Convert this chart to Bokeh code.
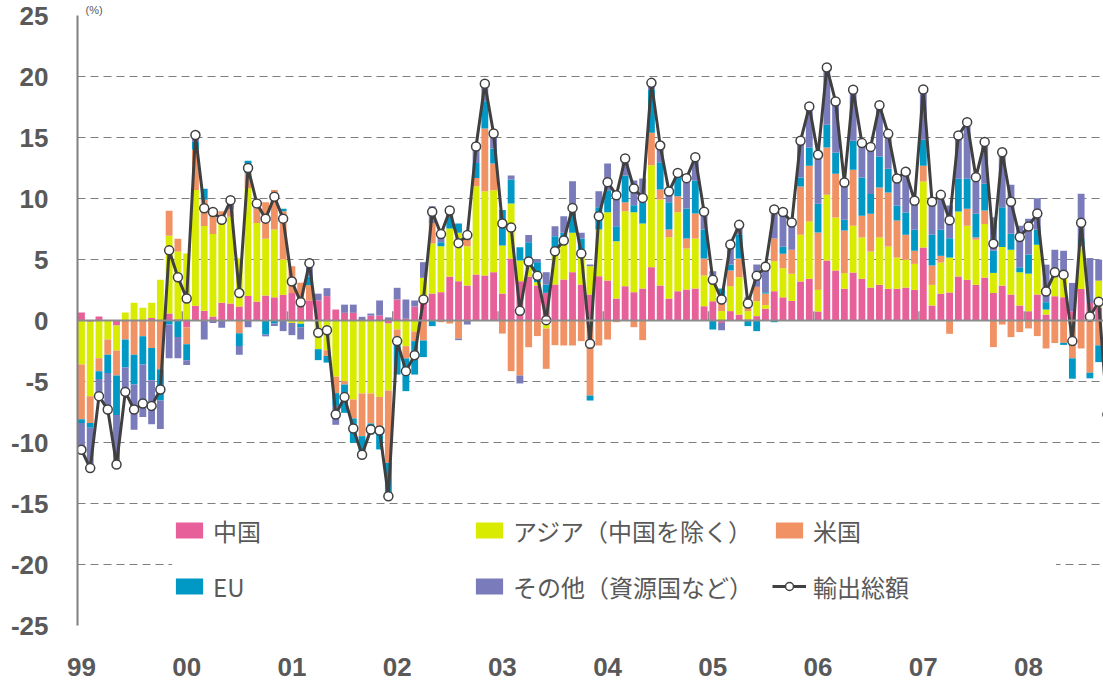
from bokeh.plotting import figure
from bokeh.models import ColumnDataSource, FixedTicker, Legend, LegendItem, Range1d, Span
from bokeh.embed import file_html
from bokeh.resources import INLINE

year_labels = ["99", "00", "01", "02", "03", "04", "05", "06", "07", "08", "09"]
y_tick_values = [-25, -20, -15, -10, -5, 0, 5, 10, 15, 20, 25]
y_tick_labels = ["-25", "-20", "-15", "-10", "-5", "0", "5", "10", "15", "20", "25"]

china = [
    0.65, -0.1, 0.33, 0, -0.4, 0, 0, 0, 0.2, 0,
    0.57, 0.1, -0.55, 1.2, 0.8, 0.33, 1.45, 1.4, 1.15, 2.0,
    1.55, 2.05, 1.9, 2.1, 2.25, 1.5, 1.65, 1.65, 2.0, 0.9,
    0.63, 0.63, 0, 0.4, 0.4, -0.25, 1.72, 0.14, 1.15, 1.72,
    2.21, 2.32, 3.6, 3.22, 2.87, 3.77, 3.69, 3.96, 2.21, 5.08,
    3.22, 3.6, 2.87, 2.27, 2.95, 3.36, 3.96, 2.95, 2.13, 3.63,
    3.28, 1.8, 2.81, 2.32, 2.62, 4.37, 2.87, 1.8, 2.4, 2.54,
    2.62, 1.17, 1.58, -0.2, 0.77, 0.49, 0.1, 0.36, 0.96, 2.4,
    1.9, 1.61, 3.2, 3.42, 0.74, 4.92, 4.1, 2.6, 3.93, 3.42,
    2.7, 2.92, 2.6, 2.6, 2.7, 2.51, 5.98, 1.23, 2.19, 2.3,
    3.61, 3.33, 2.92, 3.52, 2.26, 2.86, 2.13, 1.23, 0.76, 2.13,
    0.49, 1.99, 1.91, 0.76, 2.59, 1.44, 1.04, -0.5,
]

asia = [
    -3.6, -6.1, -3.1, -1.55, -2.05, 0.65, 1.45, 1.05, 1.25, 3.35,
    6.38, 5.55, 5.5, 9.5, 6.95, 6.77, 6.8, 7.1, 3.95, 8.85,
    6.45, 4.65, 5.55, 2.9, -0.2, -0.27, 0, -2.35, -2.45, -4.6,
    -4.97, -6.47, -5.98, -5.98, -6.26, -5.49, -0.74, -2.1, -0.9, 1.78,
    4.1, 3.77, 3.94, 3.97, 3.22, 7.24, 6.91, 6.72, 3.94, 4.51,
    1.7, 0.85, 0.27, -0.66, 3.01, 3.28, 3.23, 2.87, 2.32, 3.83,
    5.6, 4.7, 6.15, 6.56, 5.33, 8.36, 7.05, 5.03, 6.48, 3.36,
    4.1, 2.52, 2.05, 0.77, 2.04, 3.06, 0.67, 1.22, 0.3, 2.46,
    2.38, 2.22, 3.82, 4.69, 1.77, 5.38, 4.34, 1.28, 3.83, 3.38,
    2.96, 3.88, 3.47, 2.56, 2.27, 2.13, 5.41, 1.69, 2.56, 2.86,
    5.32, 4.43, 3.69, 4.4, 1.64, 3.16, 3.67, 2.72, 3.08, 4.08,
    0.41, 1.55, 1.71, 0, 3.49, 0, 2.23, -2.5,
]

usa = [
    -4.5, -2.2, -1.05, -1.25, -2.05, -1.55, -2.8, -1.3, -2.25, -4.0,
    2.05, 1.05, -1.4, 3.3, 2.15, 1.85, 0.7, 0.6, -1.05, 1.2,
    1.2, 3.0, 3.25, 3.95, 2.2, 1.6, 1.25, 0, -0.45, -1.35,
    -0.28, -1.56, -3.5, -2.46, -2.48, -5.93, -0.68, -1.01, -0.79, -1.64,
    1.69, -0.14, -0.25, -1.48, 0.55, 0.68, 5.14, 2.19, -1.07, -4.15,
    -4.51, -2.19, -1.28, -3.3, -2.02, -2.05, -2.05, -1.69, -6.15, -2.05,
    -1.56, -0.14, 0.74, -0.55, -1.61, 2.65, 0.82, 0.63, 1.31, 0.82,
    2.05, 1.39, 0, 0.8, 1.29, 1.53, 0.35, 1.18, 0.95, 1.86,
    1.2, 1.96, 3.96, 4.57, 4.7, 3.88, 3.58, 3.5, 4.59, 1.78,
    3.08, 4.1, 4.42, 3.04, 2.05, 1.07, 1.29, 1.59, 0.55, -1.09,
    0, 1.39, 0.19, 1.1, -2.18, -0.33, -1.36, -0.95, -0.65, -1.28,
    -2.29, -1.85, -1.83, -3.1, -2.29, -4.28, -2.04, -2.0,
]

eu = [
    -0.3, -0.4, -0.65, -1.5, -3.25, -2.3, -2.45, -2.3, -2.65, -2.55,
    -0.33, -1.35, -1.3, 0.65, 0.9, 0, 0, 0, -1.05, 1.05,
    0.2, -1.15, -0.25, 0.2, 0, -0.28, 0.7, -0.9, -0.55, -1.05,
    -2.32, -2.0, -1.6, -0.9, -1.83, -2.73, -3.01, -2.68, -2.74, -1.36,
    -0.46, 0.33, 1.09, 0.76, 0.7, 1.23, 2.24, 1.23, 2.9, 1.97,
    1.09, 1.97, 1.64, 0.68, 0.95, 0.55, 1.77, 0.9, -0.41, 1.83,
    1.8, 1.23, 2.19, 0.57, 1.69, 3.55, 2.24, 2.24, 1.64, 2.46,
    2.71, 2.38, -0.74, 1.05, 0.49, 1.97, -0.46, -0.87, 0.11, -0.14,
    0.57, 0, 0.74, 1.5, 2.35, 1.86, 1.75, 0.87, 2.38, 3.14,
    1.62, 2.54, 1.94, 1.23, 1.83, 1.72, 2.13, 2.51, 2.13, 1.59,
    2.68, 2.46, 1.94, 2.18, 1.82, 3.27, 1.31, 0.41, 1.56, 1.23,
    0.6, 0, -0.17, -1.67, 0.6, -0.46, -1.37, -2.0,
]

other = [
    -2.5, -3.2, -1.4, -3.0, -4.0, -2.1, -3.7, -4.3, -3.6, -2.35,
    -2.77, -1.75, -0.4, 0.5, -1.55, -0.2, -0.6, 0.65, -0.7, -0.55,
    0.35, -0.15, -0.2, -0.87, -1.0, -1.0, 1.0, 0.55, 0.65, -1.55,
    0.67, 0.67, 0.3, 0.17, 1.24, 0.25, 0.96, 1.58, 0.49, 1.28,
    1.37, 0.8, 0.47, -0.13, -0.33, 1.1, 1.36, 1.09, 0, 0.33,
    -0.65, 0.58, 0.22, 1.01, 0.82, 1.36, 2.46, 0.47, 0.14, 1.31,
    2.19, 2.46, 1.17, 2.03, 2.0, 0.55, 1.36, 0.9, 0.37, 2.38,
    1.91, 1.45, 0.41, -0.6, 1.78, 0.74, 0.79, 1.83, 1.86, 2.38,
    2.7, 2.19, 3.01, 3.36, 4.02, 4.7, 4.18, 3.06, 4.18, 2.82,
    3.87, 4.21, 2.87, 2.21, 3.34, 2.38, 4.12, 2.71, 2.87, 2.68,
    3.55, 4.65, 3.01, 3.44, 2.75, 4.55, 4.01, 3.41, 2.94, 2.59,
    3.08, 2.26, 2.1, 2.32, 3.7, 3.68, 1.72, -0.7,
]

total = [
    -10.6, -12.1, -6.2, -7.3, -11.8, -5.85, -7.3, -6.8, -7.0, -5.65,
    5.75, 3.55, 1.8, 15.2, 9.2, 8.9, 8.25, 9.85, 2.25, 12.5,
    9.6, 8.35, 10.15, 8.35, 3.2, 1.5, 4.7, -1.0, -0.8, -7.7,
    -6.28, -8.85, -11.0, -8.93, -9.02, -14.4, -1.69, -4.15, -2.84, 1.72,
    8.91, 7.08, 9.02, 6.34, 7.0, 14.26, 19.4, 15.33, 7.95, 7.62,
    0.79, 4.84, 3.66, 0.03, 5.68, 6.56, 9.23, 5.49, -1.91, 8.55,
    11.34, 10.27, 13.28, 10.82, 10.05, 19.48, 14.34, 10.57, 12.1, 11.67,
    13.39, 8.91, 3.33, 1.72, 6.23, 7.84, 1.39, 3.66, 4.4, 9.1,
    8.9, 8.03, 14.73, 17.54, 13.58, 20.74, 17.95, 11.31, 18.91, 14.54,
    14.23, 17.65, 15.3, 11.64, 12.19, 9.81, 18.93, 9.73, 10.3, 8.22,
    15.16, 16.26, 11.75, 14.64, 6.29, 13.79, 9.73, 6.84, 7.71, 8.77,
    2.37, 3.95, 3.76, -1.69, 8.01, 0.33, 1.53, -7.7,
]

series_names = ["中国", "アジア（中国を除く）", "米国", "EU", "その他（資源国など）"]
series_vals = [china, asia, usa, eu, other]
series_colors = ["#E8609A", "#D8EB00", "#F09264", "#0099C6", "#797BBA"]
total_name = "輸出総額"
unit_label = "(%)"

TXT = "#595959"
n = len(total)
months = list(range(n))

p = figure(width=1103, height=680, output_backend="svg", toolbar_location=None,
           x_range=Range1d(-0.45, 116.55), y_range=Range1d(-25, 25),
           min_border_left=77, min_border_right=0, min_border_top=15, min_border_bottom=55,
           outline_line_color=None, background_fill_color="white", border_fill_color="white")

# unit label above the plot area
p.title.text = unit_label
p.title.align = "left"
p.title.offset = 8
p.title.standoff = 0
p.title.text_font = "Liberation Sans"
p.title.text_font_size = "11px"
p.title.text_font_style = "normal"
p.title.text_color = TXT

pos = [0.0] * n
neg = [0.0] * n
bar_renderers = []
for vals, col in zip(series_vals, series_colors):
    bottoms, tops = [], []
    for i, v in enumerate(vals):
        if v >= 0:
            bottoms.append(pos[i]); tops.append(pos[i] + v); pos[i] += v
        else:
            tops.append(neg[i]); bottoms.append(neg[i] + v); neg[i] += v
    src = ColumnDataSource(dict(x=months, b=bottoms, t=tops))
    r = p.vbar(x="x", bottom="b", top="t", width=0.78, source=src,
               fill_color=col, line_color=None)
    bar_renderers.append(r)

# zero line with year-boundary tick marks
bounds = [12 * k - 0.5 for k in range(1, len(year_labels))]
p.segment(x0=bounds, y0=[0] * len(bounds), x1=bounds, y1=[0.75] * len(bounds),
          line_color="#8c8c8c", line_width=1.5)
p.add_layout(Span(location=0, dimension="width", line_color="#8c8c8c", line_width=2))

line_r = p.line(months, total, line_color="#404040", line_width=3)
pts_r = p.scatter(months, total, size=9, fill_color="white", line_color="#404040", line_width=1.5)

# y axis
p.yaxis.ticker = FixedTicker(ticks=y_tick_values)
p.yaxis.major_label_overrides = {v: s for v, s in zip(y_tick_values, y_tick_labels)}
p.yaxis.axis_line_color = "#808080"
p.yaxis.axis_line_width = 2
p.yaxis.major_tick_line_color = None
p.yaxis.minor_tick_line_color = None
p.yaxis.major_label_text_font = "Liberation Sans"
p.yaxis.major_label_text_font_style = "bold"
p.yaxis.major_label_text_font_size = "26px"
p.yaxis.major_label_text_color = TXT
p.yaxis.major_label_standoff = 23

p.ygrid.ticker = FixedTicker(ticks=y_tick_values)
p.ygrid.grid_line_color = "#7f7f7f"
p.ygrid.grid_line_dash = "8 5"
p.ygrid.grid_line_width = 1.2
p.xgrid.visible = False

# x axis with year labels
year_ticks = [12 * k for k in range(len(year_labels))]
p.xaxis.ticker = FixedTicker(ticks=year_ticks)
p.xaxis.major_label_overrides = {t: lab for t, lab in zip(year_ticks, year_labels)}
p.xaxis.axis_line_color = None
p.xaxis.major_tick_line_color = None
p.xaxis.minor_tick_line_color = None
p.xaxis.major_label_text_font = "Liberation Sans"
p.xaxis.major_label_text_font_style = "bold"
p.xaxis.major_label_text_font_size = "26px"
p.xaxis.major_label_text_color = TXT
p.xaxis.major_label_standoff = 26

items = [LegendItem(label=nm, renderers=[r]) for nm, r in zip(series_names, bar_renderers)]
items.append(LegendItem(label=total_name, renderers=[line_r, pts_r]))
legend = Legend(items=items, location=(95, 19), orientation="horizontal", ncols=3)
legend.glyph_width = 34
legend.glyph_height = 20
legend.label_standoff = 7
legend.label_width = 243
legend.label_height = 40
legend.spacing = 16
legend.padding = 13
legend.margin = 0
legend.background_fill_color = "white"
legend.background_fill_alpha = 1
legend.border_line_color = None
legend.label_text_font = "Noto Sans CJK JP"
legend.label_text_font_size = "24px"
legend.label_text_color = TXT
p.add_layout(legend, "center")

open("out.html", "w").write(file_html(p, INLINE))
